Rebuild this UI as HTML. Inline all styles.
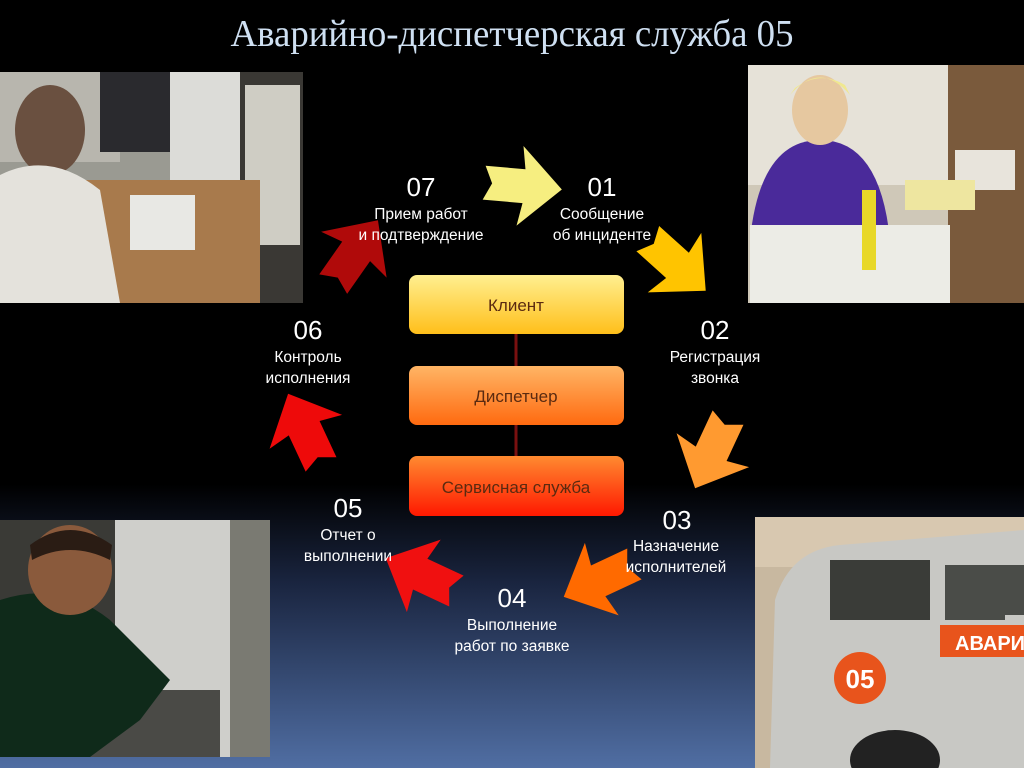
<!DOCTYPE html>
<html><head><meta charset="utf-8"><style>
html,body{margin:0;padding:0;background:#000;}
svg{display:block}
</style></head><body>
<svg width="1024" height="768" viewBox="0 0 1024 768" xmlns="http://www.w3.org/2000/svg">
<defs>
<linearGradient id="bg" x1="0" y1="0" x2="0" y2="1">
<stop offset="0" stop-color="#000"/><stop offset="0.63" stop-color="#000"/><stop offset="0.76" stop-color="#1a2540"/><stop offset="1" stop-color="#506ea3"/>
</linearGradient>
<linearGradient id="g1" x1="0" y1="0" x2="0" y2="1"><stop offset="0" stop-color="#ffef90"/><stop offset="1" stop-color="#ffbf1a"/></linearGradient>
<linearGradient id="g2" x1="0" y1="0" x2="0" y2="1"><stop offset="0" stop-color="#ffb565"/><stop offset="1" stop-color="#ff6a10"/></linearGradient>
<linearGradient id="g3" x1="0" y1="0" x2="0" y2="1"><stop offset="0" stop-color="#ff8a30"/><stop offset="1" stop-color="#ff1800"/></linearGradient>
<polygon id="arr" points="-38,-17 2,-17 -2,-40 40,0 -2,40 2,17 -38,17 -30,0"/>
</defs>
<rect width="1024" height="768" fill="url(#bg)"/>
<text x="512" y="46" text-anchor="middle" font-family="Liberation Serif, serif" font-size="38" fill="#cfe0f2" textLength="563" lengthAdjust="spacingAndGlyphs">Аварийно-диспетчерская служба 05</text>

<!-- photo top-left -->
<g>
<rect x="0" y="72" width="303" height="231" fill="#9a9a92"/>
<rect x="0" y="72" width="120" height="90" fill="#b8b6ae"/>
<rect x="100" y="72" width="70" height="80" fill="#2a2a2e"/>
<rect x="170" y="72" width="75" height="150" fill="#dcdcd8"/>
<rect x="240" y="72" width="63" height="231" fill="#3a3834"/>
<rect x="245" y="85" width="55" height="160" fill="#cfcdc4"/>
<rect x="60" y="180" width="200" height="123" fill="#a87a4c"/>
<rect x="130" y="195" width="65" height="55" fill="#e8e8e4"/>
<ellipse cx="50" cy="130" rx="35" ry="45" fill="#6a5040"/>
<path d="M0 175 Q50 150 100 190 L120 303 L0 303Z" fill="#e4e2dc"/>
</g>
<!-- photo top-right -->
<g>
<rect x="748" y="65" width="276" height="238" fill="#cfc8b8"/>
<rect x="748" y="65" width="200" height="120" fill="#e6e2d8"/>
<rect x="948" y="65" width="76" height="238" fill="#7a5a3c"/>
<rect x="955" y="150" width="60" height="40" fill="#e8e4dc"/>
<path d="M750 240 Q760 140 820 140 Q880 140 890 240 L880 270 L750 280Z" fill="#4a2a9a"/>
<ellipse cx="820" cy="110" rx="28" ry="35" fill="#e6c8a0"/>
<path d="M790 95 Q820 60 850 95 L845 85 Q820 70 795 88Z" fill="#f0e890"/>
<rect x="750" y="225" width="200" height="78" fill="#ecece6"/>
<rect x="905" y="180" width="70" height="30" fill="#eee6a0"/>
<rect x="862" y="190" width="14" height="80" fill="#e8d828"/>
</g>
<!-- photo bottom-left -->
<g>
<rect x="0" y="520" width="270" height="237" fill="#cfcfcb"/>
<rect x="0" y="520" width="115" height="120" fill="#3a3a36"/>
<rect x="230" y="520" width="40" height="237" fill="#7a7a72"/>
<rect x="80" y="690" width="140" height="67" fill="#4a4a46"/>
<path d="M0 600 Q60 580 110 620 L170 680 L140 720 L90 757 L0 757Z" fill="#0f2a1a"/>
<ellipse cx="70" cy="570" rx="42" ry="45" fill="#8a5a3c"/>
<path d="M30 545 Q70 515 112 545 L110 560 Q70 540 32 560Z" fill="#2a1c14"/>
</g>
<!-- photo bottom-right -->
<g>
<rect x="755" y="517" width="269" height="251" fill="#c8b8a0"/>
<rect x="755" y="517" width="269" height="50" fill="#d8c8b0"/>
<path d="M770 768 L775 600 Q790 550 840 545 L1024 530 L1024 768Z" fill="#c8c8c4"/>
<rect x="830" y="560" width="100" height="60" fill="#3a3c38"/>
<rect x="945" y="565" width="60" height="55" fill="#4a4c48"/>
<rect x="1005" y="565" width="19" height="50" fill="#4a4c48"/>
<rect x="940" y="625" width="84" height="32" fill="#e8541c"/>
<text x="955" y="650" font-family="Liberation Sans, sans-serif" font-weight="bold" font-size="20" fill="#fff">АВАРИЙ</text>
<circle cx="860" cy="678" r="26" fill="#e8541c"/>
<text x="860" y="688" text-anchor="middle" font-family="Liberation Sans, sans-serif" font-weight="bold" font-size="26" fill="#fff">05</text>
<ellipse cx="895" cy="760" rx="45" ry="30" fill="#222"/>
</g>

<!-- arrows -->
<use href="#arr" transform="translate(522,186) rotate(5)" fill="#f6ee80"/>
<use href="#arr" transform="translate(676,264) rotate(42)" fill="#ffc400"/>
<use href="#arr" transform="translate(712,452) rotate(115)" fill="#ff9a30"/>
<use href="#arr" transform="translate(600,580) rotate(155)" fill="#ff6a00"/>
<use href="#arr" transform="translate(422,575) rotate(205)" fill="#f01010"/>
<use href="#arr" transform="translate(305,430) rotate(245)" fill="#ee0a0a"/>
<use href="#arr" transform="translate(355,253) rotate(-55)" fill="#b00a0a"/>

<!-- connectors -->
<line x1="516" y1="334" x2="516" y2="456" stroke="#7a1010" stroke-width="3"/>
<rect x="409" y="275" width="215" height="59" rx="8" fill="url(#g1)"/>
<rect x="409" y="366" width="215" height="59" rx="8" fill="url(#g2)"/>
<rect x="409" y="456" width="215" height="60" rx="8" fill="url(#g3)"/>
<g font-family="Liberation Sans, sans-serif" font-size="17" fill="#5a2a10" text-anchor="middle">
<text x="516" y="311">Клиент</text>
<text x="516" y="402">Диспетчер</text>
<text x="516" y="493">Сервисная служба</text>
</g>

<g font-family="Liberation Sans, sans-serif" fill="#fff" text-anchor="middle">
<g font-size="26">
<text x="421" y="196">07</text>
<text x="602" y="196">01</text>
<text x="715" y="339">02</text>
<text x="677" y="529">03</text>
<text x="512" y="607">04</text>
<text x="348" y="517">05</text>
<text x="308" y="339">06</text>
</g>
<g font-size="15.5">
<text x="421" y="219">Прием работ</text>
<text x="421" y="240">и подтверждение</text>
<text x="602" y="219">Сообщение</text>
<text x="602" y="240">об инциденте</text>
<text x="715" y="362">Регистрация</text>
<text x="715" y="383">звонка</text>
<text x="676" y="551">Назначение</text>
<text x="676" y="572">исполнителей</text>
<text x="512" y="630">Выполнение</text>
<text x="512" y="651">работ по заявке</text>
<text x="348" y="540">Отчет о</text>
<text x="348" y="561">выполнении</text>
<text x="308" y="362">Контроль</text>
<text x="308" y="383">исполнения</text>
</g>
</g>
</svg>
</body></html>
